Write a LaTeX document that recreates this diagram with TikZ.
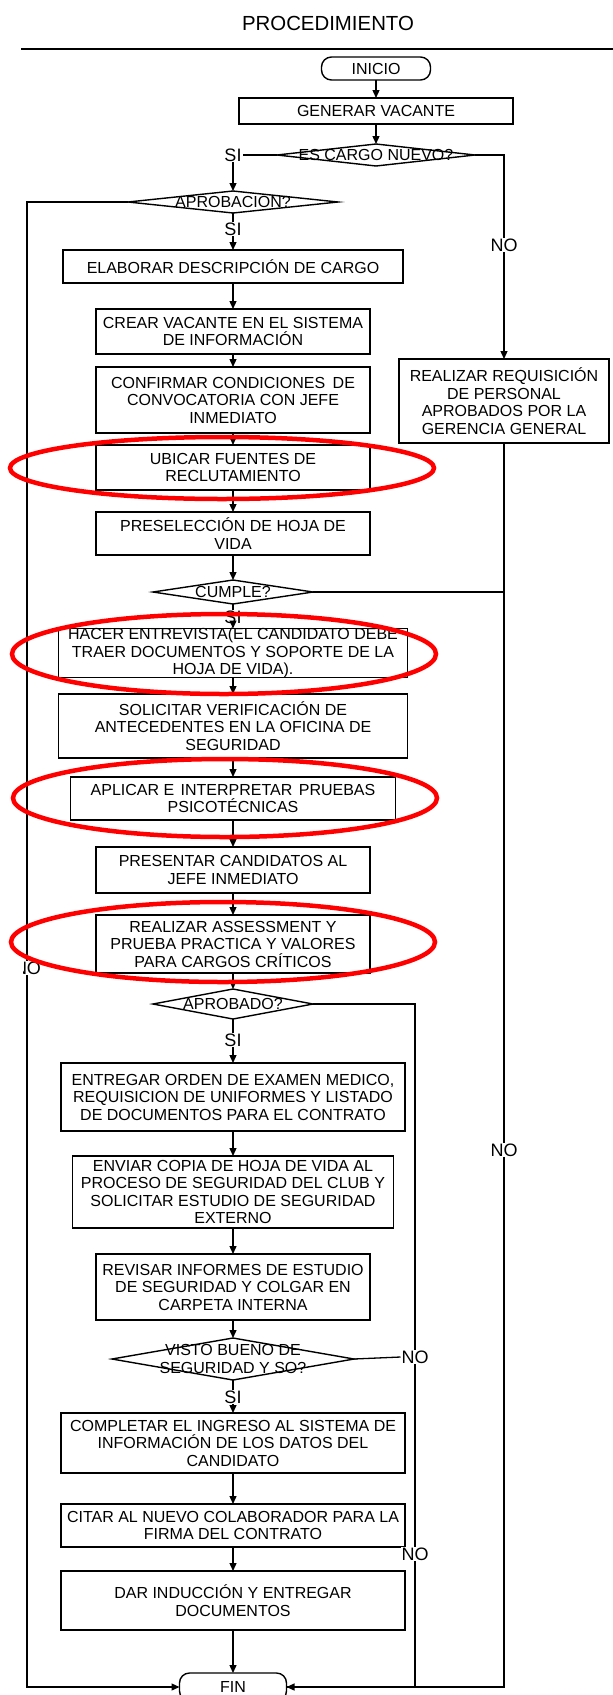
\documentclass[tikz,border=0pt]{standalone}
\usepackage{fontspec}
\setmainfont{Liberation Sans}
\usetikzlibrary{arrows.meta,shapes.geometric}
\begin{document}
\begin{tikzpicture}[x=1pt,y=-1pt,
  every node/.style={inner sep=0pt, outer sep=0pt},
  box/.style={draw, line width=1.4pt, rectangle},
  term/.style={draw, line width=1.4pt, rectangle, rounded corners=10pt},
  dia/.style={draw, line width=1.4pt, diamond},
  txt/.style={align=center, font=\fontsize{16}{17.5}\selectfont},
  lbl/.style={fill=white, inner sep=1pt, font=\fontsize{18}{18}\selectfont},
  con/.style={line width=1.3pt},
  arr/.style={con, -{Triangle[length=8pt,width=7pt]}},
  redring/.style={draw=red, line width=4.5pt, ellipse},
]
\useasboundingbox (0,0) rectangle (613,1695);

% title
\node (title) at (328,23) {\fontsize{20.4}{24}\selectfont PROCEDIMIENTO};
\coordinate (hlA) at (21,49);
\coordinate (hlB) at (613,49);
\draw[line width=1.6pt] (hlA) -- (hlB);

% top part
\node[term, minimum width=109pt, minimum height=23pt] (inicio) at (376,68.5) {};
\node[txt] (inicio-t) at (inicio) {INICIO};
\node[box, minimum width=274pt, minimum height=26pt] (gen) at (376,111) {};
\node[txt] (gen-t) at (gen) {GENERAR VACANTE};
\node[dia, minimum width=198pt, minimum height=22pt] (escargo) at (376,155) {};
\node[txt] (escargo-t) at (escargo) {ES CARGO NUEVO?};
\node[lbl] (si1) at (233,155) {SI};
\node[dia, minimum width=210pt, minimum height=22pt] (aprob) at (233,202) {};
\node[txt] (aprob-t) at (aprob) {APROBACION?};
\node[lbl] (si2) at (233,229) {SI};

% main column
\node[box, minimum width=340pt, minimum height=33pt] (elab) at (233,266.5) {};
\node[txt] (elab-t) at (elab) {ELABORAR DESCRIPCIÓN DE CARGO};
\node[box, minimum width=274pt, minimum height=45pt] (crear) at (233,331.5) {};
\node[txt] (crear-t) at (crear) {CREAR VACANTE EN EL SISTEMA\\DE INFORMACIÓN};
\node[box, minimum width=274pt, minimum height=66pt] (confirmar) at (233,400) {};
\node[txt] (confirmar-t) at (confirmar) {CONFIRMAR CONDICIONES\hspace{3pt} DE\\CONVOCATORIA CON JEFE\\INMEDIATO};
\node[box, minimum width=274pt, minimum height=45pt] (ubicar) at (233,467.5) {};
\node[txt] (ubicar-t) at (ubicar) {UBICAR FUENTES DE\\RECLUTAMIENTO};
\node[box, minimum width=274pt, minimum height=43pt] (presel) at (233,533.5) {};
\node[txt] (presel-t) at (presel) {PRESELECCIÓN DE HOJA DE\\VIDA};
\node[dia, minimum width=160pt, minimum height=24pt] (cumple) at (233,592) {};
\node[txt] (cumple-t) at (cumple) {CUMPLE?};
\node[lbl] (si3) at (233,617) {SI};
\node[box, minimum width=349pt, minimum height=49pt] (hacer) at (233,653) {};
\node[txt] (hacer-t) at (hacer) {HACER ENTREVISTA(EL CANDIDATO DEBE\\TRAER DOCUMENTOS Y SOPORTE DE LA\\HOJA DE VIDA).};
\node[box, minimum width=349pt, minimum height=64pt] (solicitar) at (233,726) {};
\node[txt] (solicitar-t) at (solicitar) {SOLICITAR VERIFICACIÓN DE\\ANTECEDENTES EN LA OFICINA DE\\SEGURIDAD};
\node[box, minimum width=325pt, minimum height=43pt] (aplicar) at (233,798.5) {};
\node[txt] (aplicar-t) at (aplicar) {APLICAR E\hspace{2pt} INTERPRETAR\hspace{2pt} PRUEBAS\\PSICOTÉCNICAS};
\node[box, minimum width=274pt, minimum height=46pt] (presentar) at (233,870) {};
\node[txt] (presentar-t) at (presentar) {PRESENTAR CANDIDATOS AL\\JEFE INMEDIATO};
\node[box, minimum width=274pt, minimum height=58pt] (assess) at (233,944) {};
\node[txt] (assess-t) at (assess) {REALIZAR ASSESSMENT Y\\PRUEBA PRACTICA Y VALORES\\PARA CARGOS CRÍTICOS};
\node[dia, minimum width=160pt, minimum height=30pt] (aprobado) at (233,1004) {};
\node[txt] (aprobado-t) at (aprobado) {APROBADO?};
\node[lbl] (si4) at (233,1040) {SI};
\node[box, minimum width=344pt, minimum height=68pt] (entregar) at (233,1097) {};
\node[txt] (entregar-t) at (entregar) {ENTREGAR ORDEN DE EXAMEN MEDICO,\\REQUISICION DE UNIFORMES Y LISTADO\\DE DOCUMENTOS PARA EL CONTRATO};
\node[box, minimum width=321pt, minimum height=72pt] (enviar) at (233,1192) {};
\node[txt] (enviar-t) at (enviar) {ENVIAR COPIA DE HOJA DE VIDA AL\\PROCESO DE SEGURIDAD DEL CLUB Y\\SOLICITAR ESTUDIO DE SEGURIDAD\\EXTERNO};
\node[box, minimum width=274pt, minimum height=66pt] (revisar) at (233,1287) {};
\node[txt] (revisar-t) at (revisar) {REVISAR INFORMES DE ESTUDIO\\DE SEGURIDAD Y COLGAR EN\\CARPETA INTERNA};
\node[dia, minimum width=242pt, minimum height=42pt] (visto) at (233,1359) {};
\node[txt] (visto-t) at (visto) {VISTO BUENO DE\\SEGURIDAD Y SO?};
\node[lbl] (si5) at (233,1397) {SI};
\node[box, minimum width=344pt, minimum height=60pt] (completar) at (233,1443) {};
\node[txt] (completar-t) at (completar) {COMPLETAR EL INGRESO AL SISTEMA DE\\INFORMACIÓN DE LOS DATOS DEL\\CANDIDATO};
\node[box, minimum width=344pt, minimum height=43pt] (citar) at (233,1525.5) {};
\node[txt] (citar-t) at (citar) {CITAR AL NUEVO COLABORADOR PARA LA\\FIRMA DEL CONTRATO};
\node[box, minimum width=344pt, minimum height=59pt] (dar) at (233,1600.5) {};
\node[txt] (dar-t) at (dar) {DAR INDUCCIÓN Y ENTREGAR\\DOCUMENTOS};
\node[term, minimum width=107pt, minimum height=28pt] (fin) at (233,1687) {};
\node[txt] (fin-t) at (fin) {FIN};

% right branch
\node[box, minimum width=210pt, minimum height=84pt] (req) at (504,401) {};
\node[txt] (req-t) at (req) {REALIZAR REQUISICIÓN\\DE PERSONAL\\APROBADOS POR LA\\GERENCIA GENERAL};
\node[lbl] (no1) at (504,245) {NO};
\node[lbl] (no2) at (504,1150) {NO};
\node[lbl] (no3) at (415,1357) {NO};
\node[lbl] (no4) at (415,1554) {NO};
\coordinate (L1) at (27,1687);

% connectors
\draw[arr] (inicio.south) -- (gen.north);
\draw[arr] (gen.south) -- (escargo.north);
\draw[con] (escargo.west) -- (si1.east);
\draw[arr] (si1.south) -- (aprob.north);
\draw[arr] (aprob.west) -| (L1) -- (fin.west);
\draw[con] (aprob.south) -- (si2.north);
\draw[arr] (si2.south) -- (elab.north);
\draw[arr] (elab.south) -- (crear.north);
\draw[arr] (crear.south) -- (confirmar.north);
\draw[arr] (confirmar.south) -- (ubicar.north);
\draw[arr] (ubicar.south) -- (presel.north);
\draw[arr] (presel.south) -- (cumple.north);
\draw[con] (cumple.south) -- (si3.north);
\draw[arr] (si3.south) -- (hacer.north);
\draw[con] (cumple.east) -- (cumple.east -| req.south);
\draw[arr] (hacer.south) -- (solicitar.north);
\draw[arr] (solicitar.south) -- (aplicar.north);
\draw[arr] (aplicar.south) -- (presentar.north);
\draw[arr] (presentar.south) -- (assess.north);
\draw[arr] (assess.south) -- (aprobado.north);
\draw[con] (aprobado.south) -- (si4.north);
\draw[arr] (si4.south) -- (entregar.north);
\draw[arr] (entregar.south) -- (enviar.north);
\draw[arr] (enviar.south) -- (revisar.north);
\draw[arr] (revisar.south) -- (visto.north);
\draw[con] (visto.south) -- (si5.north);
\draw[arr] (si5.south) -- (completar.north);
\draw[arr] (completar.south) -- (citar.north);
\draw[arr] (citar.south) -- (dar.north);
\draw[arr] (dar.south) -- (fin.north);

\draw[con] (escargo.east) -| (no1.north);
\draw[arr] (no1.south) -- (req.north);
\draw[con] (req.south) -- (no2.north);
\draw[con] (aprobado.east) -| (no3.north);
\draw[con] (visto.east) -- (no3.west);
\draw[con] (no3.south) -- (no4.north);
\draw[con] (no4.south) |- (fin.east);
\draw[arr] (no2.south) |- (fin.east);

% clipped NO on the left line
\begin{scope}
\clip (23,940) rectangle (60,1000);
\node[lbl] (no0) at (27.5,968) {NO};
\end{scope}

% red highlight rings
\node[redring, minimum width=424pt, minimum height=62pt] (ring1) at (222,468) {};
\node[redring, minimum width=424pt, minimum height=80pt] (ring2) at (224,654) {};
\node[redring, minimum width=424pt, minimum height=78pt] (ring3) at (225,798) {};
\node[redring, minimum width=424pt, minimum height=80pt] (ring4) at (223,942) {};
\end{tikzpicture}
\end{document}
